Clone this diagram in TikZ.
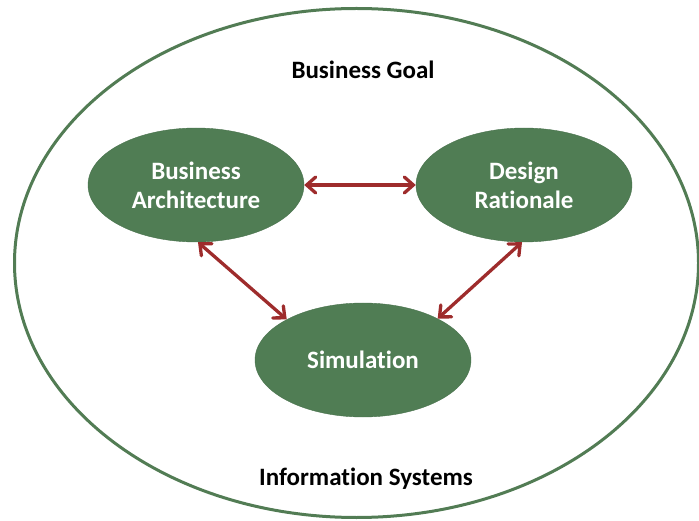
\documentclass[tikz,border=0pt]{standalone}
\usepackage{fontspec}
\setmainfont{Carlito}[Ligatures=NoCommon]
\usetikzlibrary{shapes.geometric,arrows.meta}

\definecolor{leafgreen}{RGB}{80,125,84}
\definecolor{rimgreen}{RGB}{82,124,84}
\definecolor{linkred}{RGB}{158,44,44}

\begin{document}
\begin{tikzpicture}[x=1pt, y=-1pt,
    part/.style={ellipse, fill=leafgreen, draw=leafgreen!90!black, line width=0.4pt, minimum width=216pt, minimum height=114pt, inner sep=0pt, align=center, text=white, font=\fontsize{25}{29}\selectfont\bfseries},
    caption/.style={font=\fontsize{25}{29}\selectfont\bfseries, text=black},
    link/.style={draw=linkred, line width=3.3pt, {Straight Barb[length=9pt, width=16pt, line cap=round]}-{Straight Barb[length=9pt, width=16pt, line cap=round]}}]
    % \draw[help lines](0,0) grid (699,521);
    \useasboundingbox (0,0) rectangle (699,521);

    % outer ellipse
    \node[ellipse, draw=rimgreen, line width=3pt, minimum width=684pt, minimum height=509pt, inner sep=0pt] (sys) at (356.5,263) {};

    % captions
    \node[caption] (goal) at (363,70) {Business Goal};
    \node[caption] (info) at (366,479) {Information Systems};

    % inner ellipses
    \node[part] (ba) at (196,185) {Business\\Architecture};
    \node[part] (dr) at (524,185) {Design\\Rationale};
    \node[part] (sim) at (363,360) {Simulation};

    % links
    \path[link] (ba) -- (dr);
    \path[link] (ba.-88) -- (sim.152);
    \path[link] (dr.-92) -- (sim.29);

\end{tikzpicture}
\end{document}
